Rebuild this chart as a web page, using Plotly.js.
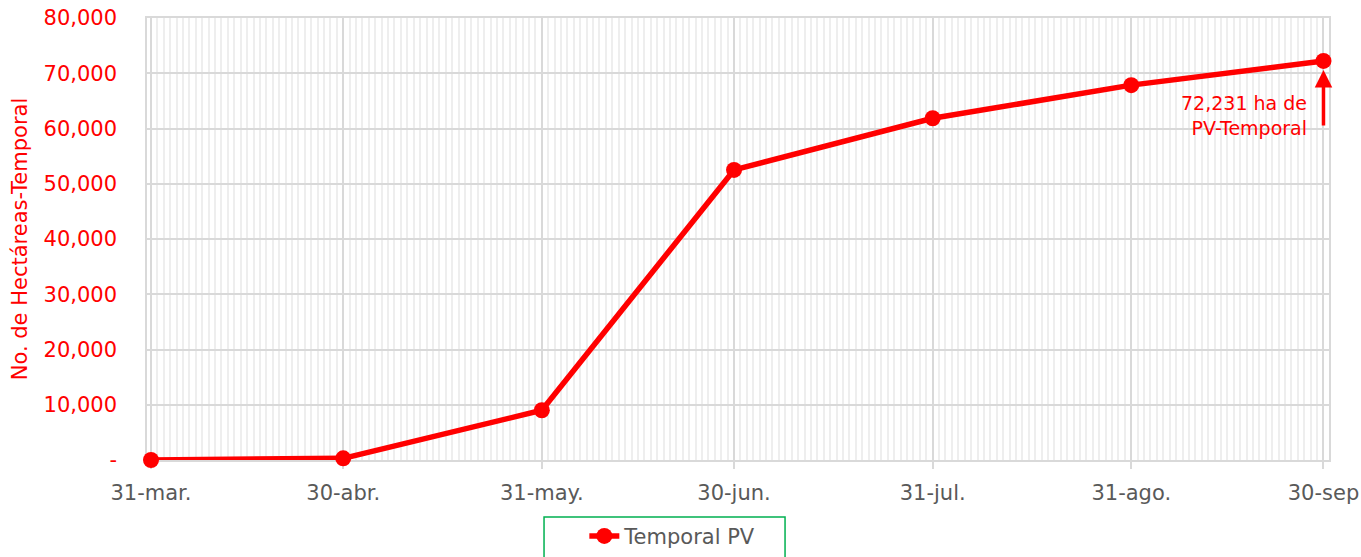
<!DOCTYPE html>
<html>
<head>
<meta charset="utf-8">
<script src="https://cdn.plot.ly/plotly-3.0.1.min.js"></script>
<style>html,body{margin:0;padding:0;background:#fff;}#chart{width:1361px;height:557px;}</style>
</head>
<body>
<div id="chart"></div>
<script>
const dates = ['2023-03-31','2023-04-30','2023-05-31','2023-06-30','2023-07-31','2023-08-31','2023-09-30'];
const xTickText = ['31-mar.','30-abr.','31-may.','30-jun.','31-jul.','31-ago.','30-sep'];
const hectareas = [0, 300, 9000, 52500, 61850, 67850, 72231];
const yTickVals = [0,10000,20000,30000,40000,50000,60000,70000,80000];
const yTickText = ['-','10,000','20,000','30,000','40,000','50,000','60,000','70,000','80,000'];
const seriesName = 'Temporal PV';
const yTitle = 'No. de Hectáreas-Temporal';
const noteText = '72,231 ha de<br>PV-Temporal';

const FONT = 'DejaVu Sans, sans-serif';
const RED = '#ff0000';
const GREY = '#595959';

const trace = {
  x: dates, y: hectareas, type: 'scatter', mode: 'lines+markers', name: seriesName,
  line: {color: RED, width: 5.5},
  marker: {color: RED, size: 16, line: {width: 0}},
  cliponaxis: false
};

const lastX = dates[dates.length-1];

const layout = {
  width: 1361, height: 557,
  margin: {l: 147, r: 32, t: 18, b: 97, autoexpand: false},
  paper_bgcolor: '#fff', plot_bgcolor: '#fff',
  font: {family: FONT, size: 19, color: GREY},
  showlegend: true,
  legend: {
    orientation: 'h', xref: 'paper', x: 0.37, xanchor: 'left',
    yref: 'container', y: 0.074, yanchor: 'top',
    borderwidth: 0, bgcolor: 'rgba(0,0,0,0)',
    font: {family: FONT, size: 21, color: GREY}
  },
  xaxis: {
    type: 'date', automargin: false, layer: 'below traces',
    range: ['2023-03-30 09:00', '2023-09-30 20:40'],
    tickmode: 'array', tickvals: dates, ticktext: xTickText,
    ticklabeloverflow: 'allow',
    ticks: 'outside', ticklen: 7, tickcolor: '#d9d9d9', tickwidth: 1.5,
    showgrid: true, gridcolor: '#d9d9d9', gridwidth: 1.5,
    showline: true, linecolor: '#d9d9d9', linewidth: 1.5, mirror: true,
    zeroline: false,
    ticklabelstandoff: 6,
    tickfont: {family: FONT, size: 21, color: GREY},
    minor: {dtick: 86400000, tick0: '2023-03-31', showgrid: true, gridcolor: '#eeeeee', gridwidth: 1.5, ticks: ''}
  },
  yaxis: {
    range: [0, 80000], automargin: false, layer: 'below traces',
    tickmode: 'array', tickvals: yTickVals, ticktext: yTickText,
    ticks: '',
    showgrid: true, gridcolor: '#d9d9d9', gridwidth: 1.5,
    showline: true, linecolor: '#d9d9d9', linewidth: 1.5, mirror: true,
    zeroline: false,
    ticklabelstandoff: 24,
    tickfont: {family: FONT, size: 21, color: RED},
    title: {text: yTitle, font: {family: FONT, size: 21, color: RED}, standoff: 10}
  },
  shapes: [
    {type: 'rect', xref: 'paper', yref: 'paper', x0: 0.3359, x1: 0.5398, y0: -0.129, y1: -0.3,
     line: {color: '#00b050', width: 1.5}, fillcolor: 'rgba(0,0,0,0)', layer: 'above'}
  ],
  annotations: [
    {
      x: lastX, y: 70600, xref: 'x', yref: 'y',
      ax: 0, ay: 57, axref: 'pixel', ayref: 'pixel',
      text: '', showarrow: true, arrowhead: 2, arrowsize: 1, arrowwidth: 3.5,
      arrowcolor: RED, standoff: 0, startstandoff: 0
    },
    {
      x: lastX, y: 62400, xref: 'x', yref: 'y',
      xanchor: 'right', yanchor: 'middle', xshift: -14,
      text: noteText, showarrow: false, align: 'right',
      font: {family: FONT, size: 19, color: RED}
    }
  ]
};

Plotly.newPlot('chart', [trace], layout, {displayModeBar: false, responsive: false});
</script>
</body>
</html>
